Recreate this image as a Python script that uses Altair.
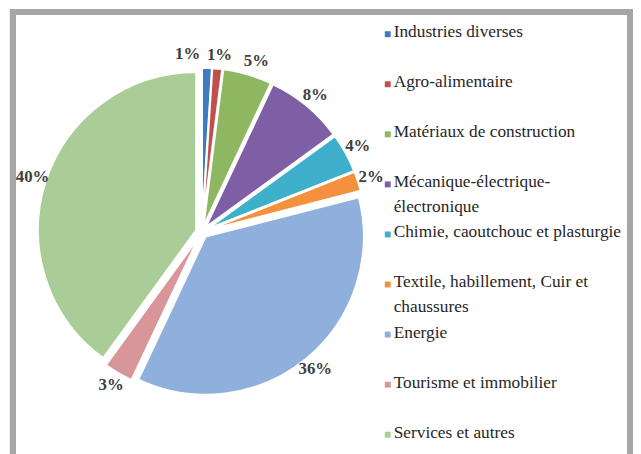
import altair as alt
import pandas as pd

categories = [
    "Industries diverses",
    "Agro-alimentaire",
    "Matériaux de construction",
    "Mécanique-électrique-électronique",
    "Chimie, caoutchouc et plasturgie",
    "Textile, habillement, Cuir et chaussures",
    "Energie",
    "Tourisme et immobilier",
    "Services et autres",
]
legend_labels = [
    "Industries diverses",
    "Agro-alimentaire",
    "Matériaux de construction",
    "Mécanique-électrique-\nélectronique",
    "Chimie, caoutchouc et plasturgie",
    "Textile, habillement, Cuir et\nchaussures",
    "Energie",
    "Tourisme et immobilier",
    "Services et autres",
]
values = [1, 1, 5, 8, 4, 2, 36, 3, 40]
colors = ["#3E7CC0", "#C0504D", "#8DB761", "#7E5FA5", "#3FB0CB", "#F5903E",
          "#8FB0DC", "#D8959A", "#AACC96"]

df = pd.DataFrame({
    "idx": list(range(len(categories))),
    "category": categories,
    "legend": legend_labels,
    "value": values,
})

CX, CY, R, EXPL, LR = 196, 224, 160, 6, 180
FONT = "Liberation Serif"

color = alt.Color("category:N", scale=alt.Scale(domain=categories, range=colors), legend=None)

base = (
    alt.Chart(df)
    .transform_window(cum="sum(value)", sort=[alt.SortField("idx")])
    .transform_joinaggregate(total="sum(value)")
    .transform_calculate(
        t0="2*PI*(datum.cum - datum.value)/datum.total",
        t1="2*PI*datum.cum/datum.total",
    )
    .transform_calculate(mid="(datum.t0 + datum.t1)/2")
)

pie = (
    base.transform_calculate(
        px=f"{CX} + {EXPL}*sin(datum.mid)",
        py=f"{CY} - {EXPL}*cos(datum.mid)",
    )
    .mark_arc(outerRadius=R, stroke="white", strokeWidth=2)
    .encode(
        theta=alt.Theta("t0:Q", scale=None),
        theta2="t1:Q",
        x=alt.X("px:Q", scale=None),
        y=alt.Y("py:Q", scale=None),
        color=color,
    )
)

labels = (
    base.transform_calculate(
        lx=f"{CX} + {LR}*sin(datum.mid) + (datum.idx == 0 ? -20 : (datum.idx == 1 ? 1 : (datum.idx == 2 ? 5 : 0)))",
        ly=f"{CY} - {LR}*cos(datum.mid)",
        lbl="datum.value + '%'",
    )
    .mark_text(font=FONT, fontWeight="bold", fontSize=17, color="#404040")
    .encode(x=alt.X("lx:Q", scale=None), y=alt.Y("ly:Q", scale=None), text="lbl:N")
)

ly = alt.Y("category:N", sort=categories,
           scale=alt.Scale(type="point", padding=0, range=[24, 429]), axis=None)

leg_sq = base.mark_square(size=36, opacity=1).encode(x=alt.value(384), y=ly, color=color)
leg_tx = base.mark_text(
    align="left", baseline="top", dy=-11, lineBreak="\n", font=FONT,
    fontSize=17.5, color="#262626", lineHeight=25,
).encode(x=alt.value(390), y=ly, text="legend:N")

frame = alt.Chart(df).mark_rect(fillOpacity=0, stroke="#A6A6A6", strokeWidth=6).encode(
    x=alt.value(5), x2=alt.value(629), y=alt.value(1.5), y2=alt.value(470)
)

chart = (
    alt.layer(frame, pie, labels, leg_sq, leg_tx)
    .resolve_scale(y="independent", x="independent")
    .properties(width=632, height=446, autosize=alt.AutoSizeParams(type="none"), padding=0,
                background="white")
    .configure_view(stroke=None)
)

chart.save("out.html", embed_options={"renderer": "svg", "actions": False})
